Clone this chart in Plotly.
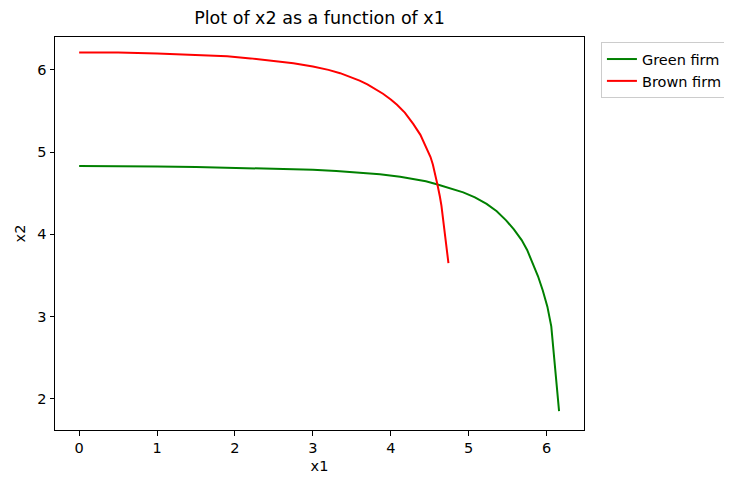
import plotly.graph_objects as go

green_x1 = [0, 0.5, 1, 1.5, 2, 2.5, 3, 3.3, 3.6, 3.86, 4.12, 4.3, 4.45, 4.59, 4.75, 4.93, 5.08, 5.23,
            5.36, 5.48, 5.58, 5.68, 5.75, 5.82, 5.89, 5.95, 6.01, 6.06, 6.16]
green_x2 = [4.83, 4.83, 4.825, 4.82, 4.81, 4.80, 4.785, 4.77, 4.75, 4.73, 4.70, 4.675, 4.645, 4.61, 4.565,
            4.51, 4.45, 4.37, 4.28, 4.17, 4.06, 3.93, 3.81, 3.66, 3.49, 3.32, 3.12, 2.88, 1.85]

brown_x1 = [0, 0.5, 1, 1.5, 1.9, 2.2, 2.5, 2.75, 3.0, 3.2, 3.35, 3.5, 3.6, 3.7, 3.8, 3.9, 4.0, 4.08,
            4.18, 4.29, 4.38, 4.46, 4.51, 4.54, 4.57, 4.60, 4.63, 4.65, 4.74]
brown_x2 = [6.21, 6.21, 6.20, 6.185, 6.165, 6.14, 6.11, 6.08, 6.04, 6.00, 5.96, 5.91, 5.87, 5.825, 5.77,
            5.71, 5.64, 5.575, 5.48, 5.34, 5.21, 5.05, 4.94, 4.85, 4.74, 4.60, 4.46, 4.35, 3.65]

x_ticks = [0, 1, 2, 3, 4, 5, 6]
y_ticks = [2, 3, 4, 5, 6]

font = "DejaVu Sans"

fig = go.Figure()
fig.add_trace(go.Scatter(x=green_x1, y=green_x2, mode="lines", name="Green firm",
                         line=dict(color="green", width=2)))
fig.add_trace(go.Scatter(x=brown_x1, y=brown_x2, mode="lines", name="Brown firm",
                         line=dict(color="red", width=2)))

axis_common = dict(showgrid=False, zeroline=False, showline=True, linecolor="black",
                   linewidth=1, mirror=True, ticks="outside", ticklen=4.5, tickwidth=1,
                   tickcolor="black", automargin=False,
                   tickfont=dict(family=font, size=14.5, color="black"))

W, H = 724, 469
fig.update_layout(
    width=W, height=H,
    margin=dict(l=47, r=W - 576, t=29, b=47, autoexpand=False),
    paper_bgcolor="white", plot_bgcolor="white",
    font=dict(family=font, color="black"),
    title=dict(text="Plot of x2 as a function of x1", x=(47 + 576) / 2 / W, xanchor="center",
               y=1 - 10 / H, yanchor="middle", automargin=False,
               font=dict(family=font, size=17.5, color="black")),
    xaxis=dict(range=[-0.31, 6.48], tickvals=x_ticks, ticktext=[str(t) for t in x_ticks],
               title=dict(text="x1", standoff=5, font=dict(family=font, size=14.5)), **axis_common),
    yaxis=dict(range=[1.62, 6.40], tickvals=y_ticks, ticktext=[str(t) for t in y_ticks],
               title=dict(text="x2", standoff=8, font=dict(family=font, size=14.5)), **axis_common),
    legend=dict(x=1.032, y=0.987, xanchor="left", yanchor="top", bordercolor="#cccccc",
                borderwidth=1, bgcolor="white", font=dict(family=font, size=14.5, color="black"),
                tracegroupgap=2),
)

fig.write_html("out.html")
